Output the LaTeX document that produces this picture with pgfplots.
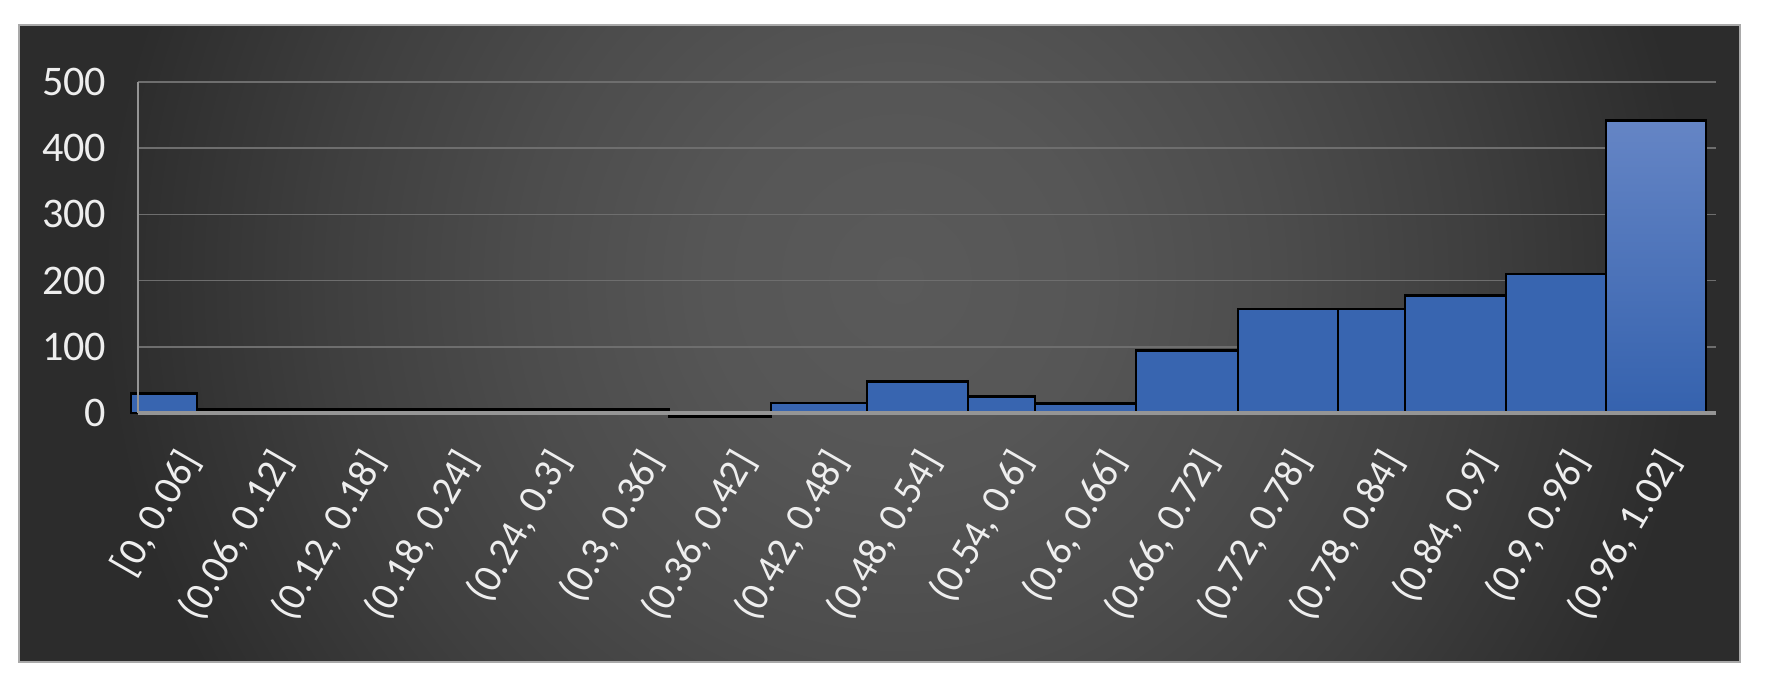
\documentclass[border=0pt]{standalone}
\usepackage{fontspec}
\setmainfont{Carlito}
\usepackage{pgfplots}
\pgfplotsset{compat=1.18}

\definecolor{bgc0}{HTML}{5A5A5A}
\definecolor{bgc1}{HTML}{565656}
\definecolor{bgc2}{HTML}{4C4C4C}
\definecolor{bgc3}{HTML}{3F3F3F}
\definecolor{bgc4}{HTML}{2C2C2C}
\definecolor{gridc}{HTML}{6E6E6E}
\definecolor{axc}{HTML}{959595}
\definecolor{tickc}{HTML}{EEEEEE}
\definecolor{barc}{HTML}{3865B0}
\definecolor{bartop}{HTML}{6585C5}
\definecolor{barbot}{HTML}{3562AE}
\definecolor{framec}{HTML}{A9A9A9}

\pgfdeclareradialshading{panelshade}{\pgfpointorigin}{%
  color(0bp)=(bgc0); color(5bp)=(bgc1); color(10bp)=(bgc2);
  color(15bp)=(bgc3); color(21bp)=(bgc4); color(50bp)=(bgc4)}

\begin{document}
\begin{tikzpicture}
\useasboundingbox (0,0) rectangle (17.73,6.87);
\fill[white] (0,0) rectangle (17.73,6.87);
% dark chart panel
\begin{scope}
  \clip (0.19,0.25) rectangle (17.40,6.62);
  \shade[shading=panelshade] (-0.5,-5.43) rectangle (18.5,13.57);
\end{scope}
\draw[framec, line width=0.25mm] (0.19,0.25) rectangle (17.40,6.62);

\begin{axis}[
  at={(1.38cm,2.74cm)}, anchor=south west,
  scale only axis, width=15.78cm, height=3.31cm,
  xmin=138, xmax=1716, ymin=0, ymax=500,
  enlargelimits=false, clip=false,
  axis line style={draw=none},
  major tick length=0pt, tick style={draw=none},
  ymajorgrids, major grid style={gridc, line width=0.5pt},
  ytick={0,100,...,500},
  /pgf/number format/assume math mode=true,
  yticklabel style={font=\fontsize{12}{14}\selectfont, text=tickc, inner sep=0pt, xshift=-3.1mm},
  x tick label as interval=false,
  xtick={191,283.56,376.12,468.68,561.24,653.8,746.36,838.92,931.48,1024.04,1116.6,1209.16,1301.72,1394.28,1486.84,1579.4,1671.96},
  xticklabels={{[0, 0.06]},{(0.06, 0.12]},{(0.12, 0.18]},{(0.18, 0.24]},{(0.24, 0.3]},{(0.3, 0.36]},{(0.36, 0.42]},{(0.42, 0.48]},{(0.48, 0.54]},{(0.54, 0.6]},{(0.6, 0.66]},{(0.66, 0.72]},{(0.72, 0.78]},{(0.78, 0.84]},{(0.84, 0.9]},{(0.9, 0.96]},{(0.96, 1.02]}},
  xticklabel style={font=\fontsize{11.5}{13}\selectfont, text=tickc, yshift=-4.1mm, rotate=60, anchor=east, inner sep=0pt},
]
% bin edges as drawn, bar height = count
\addplot[ybar interval, fill=barc, draw=black, line width=0.8pt] coordinates {
  (131,30) (197,5) (291.4,5) (385.8,5) (480.2,5) (574.6,5) (669,-5)
  (771,15) (867,47) (968,25) (1035,14) (1136,94) (1238,157)
  (1338,157) (1405,178) (1506,210) (1606,0)};
\addplot[ybar interval, top color=bartop, bottom color=barbot, draw=black, line width=0.8pt] coordinates {
  (1606,442) (1706,442)};
\draw[axc, line width=0.5pt] (rel axis cs:0,0) -- (rel axis cs:0,1);
\draw[axc, line width=1.1pt] (rel axis cs:0,0) -- (rel axis cs:1,0);
\end{axis}
\end{tikzpicture}
\end{document}
